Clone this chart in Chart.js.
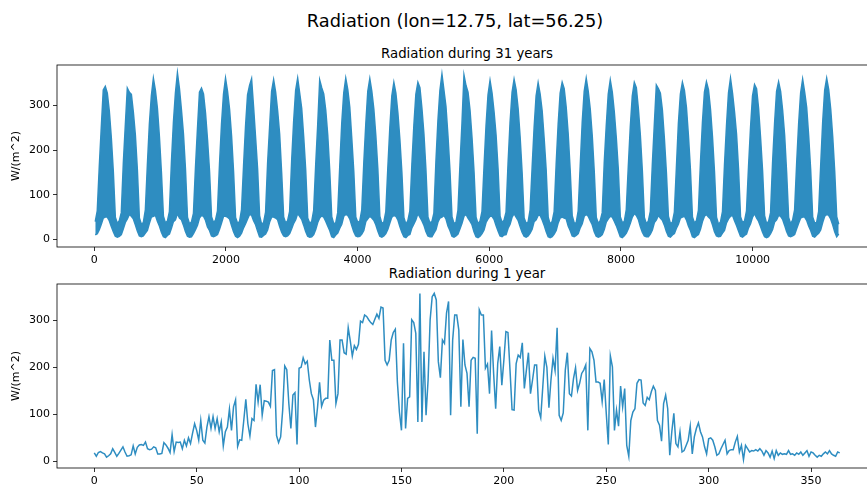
<!DOCTYPE html>
<html>
<head>
<meta charset="utf-8">
<script src="https://cdn.jsdelivr.net/npm/chart.js@4.4.0/dist/chart.umd.min.js"></script>
<style>
  html, body { margin: 0; padding: 0; background: #fff; }
  body { width: 867px; height: 487px; overflow: hidden; position: relative; font-family: "DejaVu Sans", sans-serif; }
  .title { position: absolute; white-space: nowrap; transform: translate(-50%, -50%); color: #000; }
  #suptitle { left: 455px; top: 20px; font-size: 17.8px; }
  #title31 { left: 467px; top: 53px; font-size: 13.3px; }
  #title1 { left: 467px; top: 273px; font-size: 13.3px; }
  canvas { position: absolute; left: 0; }
  #topChart { top: 0; }
  #bottomChart { top: 265px; }
</style>
</head>
<body>
<div class="title" id="suptitle">Radiation (lon=12.75, lat=56.25)</div>
<div class="title" id="title31">Radiation during 31 years</div>
<div class="title" id="title1">Radiation during 1 year</div>
<canvas id="topChart" width="910" height="265"></canvas>
<canvas id="bottomChart" width="910" height="222"></canvas>
<script>
// ====== DATA ======
const DAYS_PER_MONTH = 365.25 / 12;
const N_DAYS_31Y = 11323;

// 31 years, one row per year, Jan..Dec : visual band top / bottom (W/m^2)
const topMonthlyHigh = [
  [40, 64, 162, 250, 335, 343, 328, 288, 228, 152, 50, 36],
  [42, 60, 170, 256, 339, 330, 325, 285, 234, 156, 48, 34],
  [38, 66, 166, 258, 322, 361, 334, 294, 230, 150, 52, 37],
  [41, 62, 172, 262, 328, 373, 338, 290, 236, 158, 50, 35],
  [39, 58, 160, 248, 330, 339, 326, 284, 224, 154, 51, 38],
  [43, 64, 168, 258, 326, 361, 332, 292, 232, 152, 49, 36],
  [40, 67, 164, 254, 324, 345, 360, 296, 228, 158, 53, 34],
  [38, 61, 170, 252, 332, 358, 330, 288, 236, 150, 50, 37],
  [42, 63, 175, 264, 334, 361, 328, 294, 230, 156, 48, 36],
  [40, 65, 166, 256, 357, 340, 326, 290, 234, 154, 51, 35],
  [37, 60, 162, 260, 328, 361, 336, 296, 226, 152, 50, 38],
  [41, 66, 170, 258, 332, 360, 332, 292, 232, 158, 52, 36],
  [39, 62, 160, 250, 322, 352, 328, 284, 224, 150, 49, 34],
  [42, 64, 168, 256, 326, 352, 340, 294, 236, 156, 50, 37],
  [40, 59, 174, 266, 334, 370, 334, 298, 232, 154, 51, 36],
  [38, 65, 166, 260, 368, 345, 330, 290, 228, 152, 50, 35],
  [41, 63, 162, 254, 324, 356, 328, 286, 234, 158, 52, 38],
  [43, 61, 170, 262, 330, 359, 336, 294, 230, 150, 48, 36],
  [39, 66, 160, 250, 322, 351, 326, 288, 226, 156, 50, 34],
  [40, 62, 168, 258, 328, 352, 338, 296, 236, 154, 53, 37],
  [37, 64, 164, 262, 332, 361, 332, 292, 232, 152, 50, 36],
  [42, 60, 172, 254, 326, 357, 330, 286, 228, 158, 51, 38],
  [40, 67, 162, 252, 322, 352, 340, 294, 234, 154, 49, 35],
  [41, 63, 168, 258, 346, 338, 328, 290, 226, 150, 52, 36],
  [38, 61, 160, 260, 326, 352, 334, 296, 232, 156, 50, 37],
  [42, 65, 170, 262, 330, 353, 336, 292, 230, 152, 50, 34],
  [39, 62, 166, 254, 328, 361, 328, 286, 236, 158, 51, 38],
  [41, 64, 162, 250, 322, 347, 338, 294, 228, 154, 53, 36],
  [40, 60, 172, 260, 332, 353, 332, 290, 234, 150, 49, 35],
  [43, 66, 168, 258, 328, 359, 330, 296, 232, 156, 50, 37],
  [38, 63, 164, 262, 334, 361, 336, 292, 230, 152, 51, 34]
];
const topMonthlyLow = [
  [10, 13, 22, 34, 48, 50, 50, 42, 29, 17, 7, 5],
  [7, 11, 24, 38, 46, 56, 52, 46, 33, 19, 8, 6],
  [8, 14, 20, 36, 50, 52, 54, 41, 30, 16, 6, 4],
  [9, 12, 25, 40, 44, 58, 48, 44, 32, 18, 7, 5],
  [6, 13, 22, 32, 48, 54, 52, 43, 28, 20, 8, 6],
  [8, 11, 23, 37, 52, 52, 50, 46, 31, 17, 7, 4],
  [7, 14, 26, 35, 46, 56, 54, 42, 33, 19, 6, 5],
  [9, 12, 21, 39, 50, 50, 48, 44, 29, 16, 8, 6],
  [8, 13, 24, 36, 44, 58, 52, 45, 32, 18, 7, 5],
  [6, 11, 22, 38, 48, 53, 50, 41, 30, 20, 6, 4],
  [10, 14, 25, 34, 52, 56, 54, 46, 31, 17, 8, 6],
  [7, 12, 20, 40, 46, 52, 48, 43, 33, 19, 7, 5],
  [8, 13, 23, 37, 50, 54, 52, 44, 29, 16, 6, 4],
  [9, 11, 26, 35, 44, 58, 50, 42, 32, 18, 8, 6],
  [6, 14, 22, 39, 48, 50, 54, 46, 30, 20, 7, 5],
  [8, 12, 24, 36, 52, 56, 48, 41, 33, 17, 6, 4],
  [7, 13, 21, 38, 46, 52, 52, 45, 31, 19, 8, 6],
  [10, 11, 25, 34, 50, 58, 50, 43, 29, 16, 7, 5],
  [8, 14, 23, 40, 44, 54, 54, 44, 32, 18, 6, 4],
  [6, 12, 20, 37, 48, 50, 48, 46, 30, 20, 8, 6],
  [9, 13, 26, 35, 52, 56, 52, 42, 33, 17, 7, 5],
  [7, 11, 22, 39, 46, 52, 50, 41, 31, 19, 6, 4],
  [8, 14, 24, 36, 50, 58, 54, 45, 29, 16, 8, 6],
  [6, 12, 21, 38, 44, 54, 48, 43, 32, 18, 7, 5],
  [10, 13, 25, 34, 48, 50, 52, 44, 30, 20, 6, 4],
  [8, 11, 23, 40, 52, 56, 50, 46, 33, 17, 8, 6],
  [7, 14, 20, 37, 46, 52, 54, 42, 31, 19, 7, 5],
  [9, 12, 26, 35, 50, 58, 48, 41, 29, 16, 6, 4],
  [6, 13, 22, 39, 44, 54, 52, 45, 32, 18, 8, 6],
  [8, 11, 24, 36, 48, 50, 50, 43, 30, 20, 7, 5],
  [10, 14, 21, 38, 52, 56, 54, 46, 33, 17, 6, 12]
];

// one year of daily values (day 0..364)
const radiation1y = [
  18, 11, 19, 21, 18, 16, 9, 12, 16, 27,
  19, 11, 17, 24, 31, 20, 11, 12, 14, 33,
  16, 30, 35, 36, 34, 41, 27, 25, 26, 31,
  29, 16, 16, 17, 40, 35, 28, 19, 57, 21,
  41, 40, 41, 27, 45, 33, 50, 38, 60, 80,
  66, 45, 87, 45, 39, 73, 95, 70, 95, 70,
  91, 63, 84, 33, 63, 73, 111, 66, 116, 131,
  32, 46, 45, 87, 132, 80, 54, 91, 87, 164,
  126, 163, 98, 129, 128, 126, 117, 193, 195, 55,
  40, 52, 109, 203, 195, 123, 70, 141, 146, 36,
  198, 200, 220, 207, 213, 173, 144, 131, 73, 114,
  168, 117, 130, 134, 134, 258, 215, 215, 123, 144,
  258, 258, 231, 228, 284, 256, 224, 246, 238, 249,
  298, 295, 311, 308, 301, 295, 291, 302, 313, 304,
  328, 326, 215, 205, 215, 258, 274, 281, 169, 105,
  66, 251, 70, 134, 137, 301, 295, 272, 84, 357,
  84, 233, 98, 173, 301, 350, 357, 343, 212, 178,
  258, 251, 315, 340, 98, 258, 311, 311, 279, 116,
  259, 205, 187, 116, 215, 221, 219, 59, 322, 311,
  311, 198, 207, 144, 278, 187, 112, 208, 244, 162,
  215, 276, 274, 194, 110, 109, 208, 226, 221, 252,
  155, 194, 231, 144, 173, 205, 205, 109, 93, 158,
  224, 200, 114, 173, 219, 193, 284, 98, 87, 103,
  194, 231, 144, 139, 176, 199, 151, 166, 187, 194,
  205, 66, 240, 233, 215, 169, 169, 166, 127, 174,
  102, 36, 224, 201, 66, 109, 75, 160, 116, 155,
  34, 11, 87, 105, 112, 166, 174, 173, 124, 119,
  136, 131, 148, 160, 151, 87, 77, 43, 123, 141,
  112, 13, 63, 102, 38, 31, 63, 20, 23, 34,
  45, 75, 16, 52, 70, 82, 63, 52, 31, 16,
  48, 50, 45, 31, 13, 16, 27, 36, 45, 16,
  23, 25, 25, 41, 53, 20, 34, 4, 34, 27,
  20, 23, 22, 25, 22, 27, 22, 13, 23, 18,
  9, 22, 6, 23, 13, 18, 15, 16, 15, 23,
  15, 16, 13, 18, 15, 20, 13, 18, 23, 11,
  20, 18, 13, 9, 13, 11, 16, 20, 16, 23,
  16, 13, 11, 20, 18
];

const topXTicks = [0, 2000, 4000, 6000, 8000, 10000];
const bottomXTicks = [0, 50, 100, 150, 200, 250, 300, 350];
const yTicks = [0, 100, 200, 300];

const LINE_COLOR = '#2e8dc1';

// ====== CHARTS ======
Chart.defaults.font.family = '"DejaVu Sans", sans-serif';
Chart.defaults.font.size = 11;
Chart.defaults.color = '#000';

const spines = {
  id: 'spines',
  afterDraw(chart){
    const { ctx, chartArea: a } = chart;
    ctx.save();
    ctx.strokeStyle = '#000';
    ctx.lineWidth = 0.8;
    ctx.strokeRect(a.left, a.top, a.right - a.left, a.bottom - a.top);
    ctx.restore();
  }
};

function makeScales(xMin, xMax, xTicks, yMin, yMax){
  const grid = { offset: false, drawOnChartArea: false, drawTicks: true, tickLength: 4, tickColor: '#000', tickWidth: 0.8 };
  return {
    x: {
      type: 'linear', min: xMin, max: xMax, offset: false,
      afterBuildTicks: s => { s.ticks = xTicks.map(v => ({ value: v })); },
      afterFit: s => { s.height = 18; },
      grid, border: { display: false },
      ticks: { padding: 3, maxRotation: 0, autoSkip: false, callback: v => String(v) }
    },
    y: {
      type: 'linear', min: yMin, max: yMax,
      afterBuildTicks: s => { s.ticks = yTicks.map(v => ({ value: v })); },
      afterFit: s => { s.width = 57; },
      grid, border: { display: false },
      ticks: { padding: 3, autoSkip: false, callback: v => String(v) },
      title: { display: true, text: 'W/(m^2)', font: { size: 11 }, padding: { top: 10, bottom: 0 } }
    }
  };
}

const commonOpts = {
  responsive: false,
  animation: false,
  events: [],
  plugins: { legend: { display: false }, tooltip: { enabled: false } }
};

const monthX = i => (i + 0.5) * DAYS_PER_MONTH;
const highs = topMonthlyHigh.flat();
const lows = topMonthlyLow.flat();

new Chart(document.getElementById('topChart'), {
  type: 'line',
  data: {
    datasets: [{
      data: lows.map((v, i) => ({ x: monthX(i), y: v })),
      borderColor: LINE_COLOR,
      borderWidth: 1.5,
      pointRadius: 0,
      tension: 0,
      fill: false
    }, {
      data: highs.map((v, i) => ({ x: monthX(i), y: v })),
      borderColor: LINE_COLOR,
      backgroundColor: LINE_COLOR,
      borderWidth: 1.5,
      pointRadius: 0,
      tension: 0,
      fill: '-1'
    }]
  },
  options: {
    ...commonOpts,
    layout: { padding: { left: 0, top: 65, right: 33, bottom: 0 } },
    scales: makeScales(-0.05 * N_DAYS_31Y, 1.05 * N_DAYS_31Y, topXTicks, -17, 391)
  },
  plugins: [spines]
});

new Chart(document.getElementById('bottomChart'), {
  type: 'line',
  data: {
    datasets: [{
      data: radiation1y.map((v, i) => ({ x: i, y: v })),
      borderColor: LINE_COLOR,
      borderWidth: 1.5,
      pointRadius: 0,
      tension: 0,
      fill: false
    }]
  },
  options: {
    ...commonOpts,
    layout: { padding: { left: 0, top: 19, right: 33, bottom: 1 } },
    scales: makeScales(-18.2, 382.2, bottomXTicks, -14, 377)
  },
  plugins: [spines]
});
</script>
</body>
</html>
